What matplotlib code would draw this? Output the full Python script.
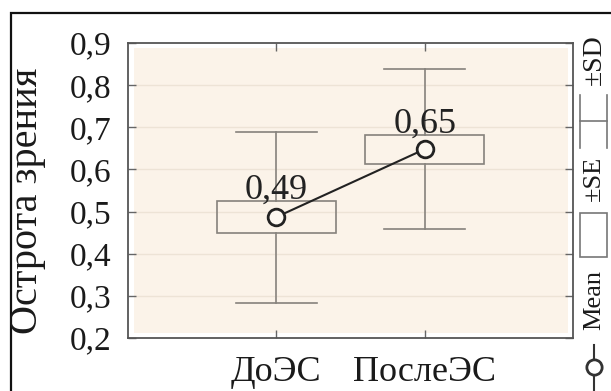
import matplotlib
matplotlib.use("Agg")
import matplotlib.pyplot as plt
from matplotlib.patches import Rectangle
from matplotlib.lines import Line2D

categories = ["ДоЭС", "ПослеЭС"]
means = [0.487, 0.648]
se = [0.037, 0.034]
sd = [0.203, 0.190]
mean_labels = ["0,49", "0,65"]
yticks = [0.2, 0.3, 0.4, 0.5, 0.6, 0.7, 0.8, 0.9]
ytick_labels = ["0,2", "0,3", "0,4", "0,5", "0,6", "0,7", "0,8", "0,9"]
legend_labels = ["Mean", "±SE", "±SD"]

plt.rcParams['font.family'] = ['Liberation Serif', 'DejaVu Serif']

W, H = 611, 391
fig = plt.figure(figsize=(W / 100, H / 100), dpi=100)
ax = fig.add_axes([128 / W, 1 - 338 / H, (573 - 128) / W, (338 - 43) / H])

def fx(px):
    return px / W

def fy(py):
    return 1 - py / H

# outer frame
fig.patches.append(Rectangle((fx(11), -0.5), 2, 0.5 + fy(13), transform=fig.transFigure,
                             fill=False, edgecolor='#111111', linewidth=1.6))

# beige plotting area inset
bg = Rectangle((6 / 445, 5 / 295), 1 - 11 / 445, 1 - 10 / 295, transform=ax.transAxes,
               facecolor='#fbf3e9', edgecolor='none', zorder=0)
ax.add_patch(bg)
ax.set_facecolor('white')

x = list(range(len(categories)))
box_half = 0.4
cap_half = 0.275
gray = '#86827c'
for xi, m, s, d in zip(x, means, se, sd):
    ax.add_patch(Rectangle((xi - box_half, m - s), 2 * box_half, 2 * s, fill=False,
                           edgecolor=gray, linewidth=1.2, zorder=3))
    ax.plot([xi, xi], [m + s, m + d], color=gray, lw=1.2, zorder=2)
    ax.plot([xi, xi], [m - s, m - d], color=gray, lw=1.2, zorder=2)
    ax.plot([xi - cap_half, xi + cap_half], [m + d, m + d], color=gray, lw=1.2, zorder=2)
    ax.plot([xi - cap_half, xi + cap_half], [m - d, m - d], color=gray, lw=1.2, zorder=2)

ax.plot(x, means, color='#222222', lw=1.5, marker='o', markersize=12,
        markerfacecolor='#fdf8f1', markeredgecolor='#222222', markeredgewidth=2, zorder=5)

for xi, m, s, lab in zip(x, means, se, mean_labels):
    ax.text(xi, m + s + 0.006, lab, ha='center', va='baseline', fontsize=26,
            color='#222222', zorder=6)

ax.set_xlim(-1, 2)
ax.set_ylim(0.2, 0.9)
ax.set_yticks(yticks)
ax.set_yticklabels(ytick_labels)
ax.set_xticks(x)
ax.set_xticklabels(categories)
ax.yaxis.grid(True, color='#ede3d6', lw=1.0)
for gl in ax.get_ygridlines():
    gl.set_clip_path(bg)
ax.set_axisbelow(True)

ax.tick_params(axis='both', direction='in', length=6, width=1, color='#666666',
               top=True, right=True, labelcolor='#1a1a1a')
ax.tick_params(axis='y', labelsize=24, pad=12)
ax.tick_params(axis='x', labelsize=26, pad=13)
for sp in ax.spines.values():
    sp.set_color('#555555')
    sp.set_linewidth(1.3)

fig.text(fx(28), fy(201), "Острота зрения", rotation=90, ha='center', va='center',
         fontsize=29, color='#1a1a1a')

# vertical legend on the right
lc = '#333333'
fig.add_artist(Line2D([fx(594), fx(594)], [fy(345), fy(392)], transform=fig.transFigure,
                      color=lc, lw=1.5))
fig.add_artist(Line2D([fx(594)], [fy(367)], transform=fig.transFigure, marker='o',
                      markersize=11, markerfacecolor='white', markeredgecolor=lc,
                      markeredgewidth=2, color=lc))
fig.text(fx(594), fy(300), legend_labels[0], rotation=90, ha='center', va='center',
         fontsize=19, color='#1a1a1a')
fig.patches.append(Rectangle((fx(580), fy(257)), fx(27), (257 - 213) / H,
                             transform=fig.transFigure, fill=False,
                             edgecolor='#777777', lw=1.2))
fig.text(fx(594), fy(178), legend_labels[1], rotation=90, ha='center', va='center',
         fontsize=19, color='#1a1a1a')
for xx in (580, 607):
    fig.add_artist(Line2D([fx(xx), fx(xx)], [fy(95), fy(148)], transform=fig.transFigure,
                          color='#777777', lw=1.2))
fig.add_artist(Line2D([fx(580), fx(607)], [fy(121), fy(121)], transform=fig.transFigure,
                      color='#777777', lw=1.2))
fig.text(fx(594), fy(60), legend_labels[2], rotation=90, ha='center', va='center',
         fontsize=20, color='#1a1a1a')

fig.savefig("out.png", dpi=100, facecolor='white')
